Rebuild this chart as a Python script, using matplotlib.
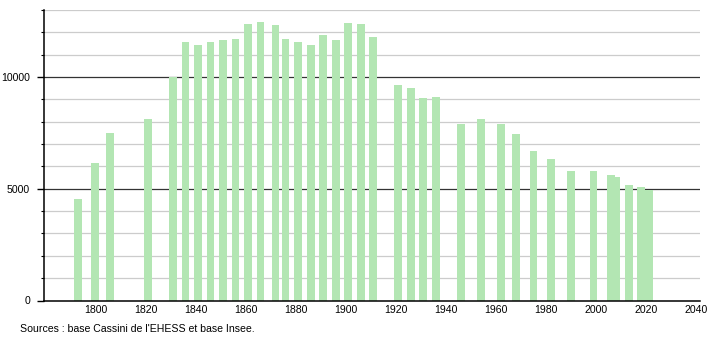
import matplotlib
matplotlib.use("Agg")
import matplotlib.pyplot as plt
from matplotlib.ticker import MultipleLocator

plt.rcParams['font.family'] = ['Liberation Sans', 'DejaVu Sans']

# recensements
annees = [1793, 1800, 1806, 1821, 1831, 1836, 1841, 1846, 1851, 1856,
          1861, 1866, 1872, 1876, 1881, 1886, 1891, 1896, 1901, 1906,
          1911, 1921, 1926, 1931, 1936, 1946, 1954, 1962, 1968, 1975,
          1982, 1990, 1999, 2006, 2008, 2013, 2018, 2021]
population = [4540, 6160, 7510, 8140, 10010, 11560, 11440, 11560, 11670, 11720,
              12390, 12460, 12340, 11710, 11560, 11440, 11890, 11640, 12430, 12390,
              11790, 9640, 9500, 9050, 9100, 7910, 8110, 7910, 7430, 6710,
              6350, 5780, 5810, 5630, 5530, 5180, 5080, 4950]

xticks = [1800, 1820, 1840, 1860, 1880, 1900, 1920, 1940, 1960, 1980, 2000, 2020, 2040]
yticks = [0, 5000, 10000]

fig = plt.figure(figsize=(7.1, 3.4), dpi=100)
ax = fig.add_axes([44/710, 1 - 300.5/340, 656/710, 290.5/340])

# grille
for v in range(1000, 14000, 1000):
    if v % 5000 == 0:
        ax.axhline(v, color='#333333', lw=0.9, zorder=1)
    else:
        ax.axhline(v, color='#cccccc', lw=0.9, zorder=1)

ax.bar(annees, population, width=3.1, color=(0.7, 0.9, 0.7), zorder=2)

ax.set_xlim(1779.5, 2041.5)
ax.set_ylim(0, 13000)
ax.set_xticks(xticks)
ax.set_yticks(yticks)
ax.yaxis.set_minor_locator(MultipleLocator(1000))

for s in ['top', 'right']:
    ax.spines[s].set_visible(False)
ax.spines['left'].set_linewidth(1.1)
ax.spines['bottom'].set_linewidth(1.1)

ax.tick_params(axis='x', length=0, pad=3, labelsize=7.6)
ax.tick_params(axis='y', which='major', length=5, width=1, pad=5, labelsize=7.6)
ax.tick_params(axis='y', which='minor', length=2.5, width=0.8)

fig.text(20/710, 1 - 329/340, "Sources : base Cassini de l'EHESS et base Insee.",
         fontsize=7.6, va='center', ha='left')

fig.savefig("out.png", dpi=100)
